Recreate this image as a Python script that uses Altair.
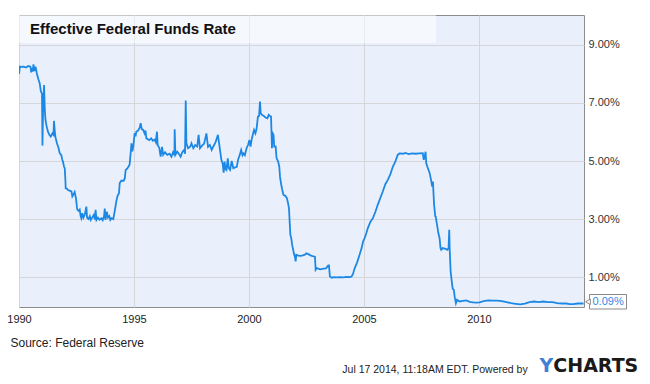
import altair as alt
import pandas as pd

# ---- data (decimal year, effective fed funds rate %) ----
years = [
    1990.00, 1990.04, 1990.10, 1990.20, 1990.30, 1990.40, 1990.50, 1990.53, 1990.56, 1990.59,
    1990.63, 1990.67, 1990.72, 1990.78, 1990.85, 1990.90, 1990.95, 1991.00, 1991.02, 1991.05,
    1991.09, 1991.12, 1991.15, 1991.20, 1991.26, 1991.32, 1991.38, 1991.45, 1991.50, 1991.52,
    1991.56, 1991.58, 1991.65, 1991.72, 1991.77, 1991.84, 1991.88, 1991.91, 1991.96, 1991.99,
    1992.02, 1992.03, 1992.08, 1992.13, 1992.20, 1992.28, 1992.32, 1992.37, 1992.42, 1992.48,
    1992.52, 1992.54, 1992.60, 1992.64, 1992.68, 1992.71, 1992.75, 1992.80, 1992.86, 1992.93,
    1992.96, 1993.02, 1993.08, 1993.12, 1993.18, 1993.25, 1993.30, 1993.33, 1993.37, 1993.43,
    1993.50, 1993.58, 1993.64, 1993.70, 1993.73, 1993.76, 1993.82, 1993.87, 1993.93, 1993.97,
    1994.03, 1994.10, 1994.16, 1994.23, 1994.28, 1994.35, 1994.38, 1994.45, 1994.55, 1994.60,
    1994.64, 1994.72, 1994.81, 1994.87, 1994.89, 1994.93, 1994.97, 1995.03, 1995.07, 1995.10,
    1995.18, 1995.25, 1995.29, 1995.34, 1995.40, 1995.46, 1995.50, 1995.54, 1995.60, 1995.66,
    1995.75, 1995.82, 1995.90, 1995.95, 1996.00, 1996.03, 1996.10, 1996.16, 1996.22, 1996.27,
    1996.35, 1996.45, 1996.55, 1996.63, 1996.70, 1996.76, 1996.77, 1996.80, 1996.88, 1996.95,
    1997.03, 1997.10, 1997.18, 1997.22, 1997.25, 1997.28, 1997.35, 1997.45, 1997.50, 1997.58,
    1997.66, 1997.75, 1997.81, 1997.87, 1997.95, 1998.05, 1998.15, 1998.22, 1998.30, 1998.38,
    1998.45, 1998.55, 1998.65, 1998.72, 1998.80, 1998.86, 1998.90, 1998.94, 1998.98, 1999.02,
    1999.08, 1999.12, 1999.18, 1999.25, 1999.32, 1999.40, 1999.47, 1999.53, 1999.60, 1999.66,
    1999.72, 1999.76, 1999.82, 1999.90, 1999.96, 2000.02, 2000.07, 2000.12, 2000.18, 2000.22,
    2000.28, 2000.33, 2000.39, 2000.44, 2000.48, 2000.51, 2000.56, 2000.65, 2000.72, 2000.80,
    2000.86, 2000.90, 2000.96, 2001.00, 2001.03, 2001.07, 2001.10, 2001.16, 2001.20, 2001.27,
    2001.32, 2001.35, 2001.40, 2001.45, 2001.50, 2001.58, 2001.65, 2001.70, 2001.74, 2001.77,
    2001.80, 2001.84, 2001.88, 2001.91, 2001.96, 2002.00, 2002.03, 2002.06, 2002.15, 2002.25,
    2002.35, 2002.45, 2002.49, 2002.58, 2002.70, 2002.81, 2002.87, 2002.90, 2002.95, 2003.10,
    2003.25, 2003.35, 2003.45, 2003.48, 2003.52, 2003.60, 2003.70, 2003.80, 2003.95, 2004.10,
    2004.25, 2004.40, 2004.46, 2004.52, 2004.60, 2004.70, 2004.81, 2004.90, 2004.96, 2005.03,
    2005.10, 2005.17, 2005.28, 2005.39, 2005.50, 2005.60, 2005.70, 2005.82, 2005.93, 2006.04,
    2006.15, 2006.26, 2006.35, 2006.47, 2006.55, 2006.70, 2006.80, 2006.95, 2007.10, 2007.25,
    2007.40, 2007.56, 2007.60, 2007.64, 2007.68, 2007.71, 2007.76, 2007.86, 2007.93, 2007.97,
    2008.00, 2008.05, 2008.10, 2008.12, 2008.18, 2008.24, 2008.29, 2008.33, 2008.36, 2008.42,
    2008.55, 2008.63, 2008.68, 2008.71, 2008.73, 2008.77, 2008.81, 2008.86, 2008.91, 2008.95,
    2009.00, 2009.05, 2009.15, 2009.30, 2009.45, 2009.60, 2009.75, 2009.90, 2010.03, 2010.20,
    2010.40, 2010.60, 2010.80, 2011.00, 2011.20, 2011.40, 2011.60, 2011.80, 2012.00, 2012.20,
    2012.40, 2012.60, 2012.80, 2013.00, 2013.20, 2013.40, 2013.60, 2013.80, 2013.95, 2014.10,
    2014.30, 2014.45, 2014.55,
]
rates = [
    8.00, 8.25, 8.24, 8.25, 8.22, 8.27, 8.25, 8.05, 8.20, 8.08,
    8.33, 8.10, 8.25, 8.00, 7.80, 7.68, 7.40, 7.31, 5.53, 6.90,
    7.62, 6.80, 6.42, 6.20, 6.01, 5.90, 5.84, 5.95, 5.90, 6.38,
    6.00, 5.84, 5.61, 5.45, 5.27, 5.20, 5.05, 4.98, 4.80, 4.75,
    4.30, 4.06, 4.05, 4.00, 3.98, 3.95, 3.78, 3.85, 3.93, 3.70,
    3.40, 3.32, 3.28, 3.32, 3.10, 3.03, 3.20, 3.05, 3.15, 3.43,
    3.05, 3.00, 3.10, 2.97, 3.05, 3.14, 2.98, 3.32, 2.97, 3.05,
    2.98, 3.03, 2.96, 3.10, 3.36, 2.97, 3.25, 3.05, 3.10, 2.97,
    3.03, 3.00, 3.26, 3.60, 3.78, 3.90, 4.24, 4.32, 4.32, 4.40,
    4.69, 4.75, 4.87, 5.40, 5.61, 5.33, 5.50, 5.96, 5.85, 6.01,
    6.05, 6.15, 6.30, 6.10, 6.07, 5.95, 6.05, 5.78, 5.75, 5.72,
    5.78, 5.70, 5.74, 5.65, 6.01, 5.55, 5.45, 5.15, 5.49, 5.21,
    5.30, 5.21, 5.25, 5.15, 5.30, 5.20, 6.09, 5.21, 5.32, 5.25,
    5.15, 5.30, 5.38, 5.25, 7.08, 5.61, 5.44, 5.50, 5.61, 5.44,
    5.55, 5.50, 5.90, 5.44, 5.52, 5.60, 5.95, 5.49, 5.55, 5.38,
    5.50, 5.65, 5.90, 5.50, 5.04, 4.90, 4.60, 4.98, 4.72, 4.69,
    5.09, 4.75, 4.69, 5.00, 4.75, 4.78, 4.80, 5.05, 5.21, 5.38,
    5.20, 5.26, 5.20, 5.45, 5.55, 5.72, 5.50, 5.75, 5.95, 6.07,
    5.95, 6.10, 6.53, 6.55, 7.05, 6.65, 6.59, 6.55, 6.50, 6.47,
    6.59, 6.56, 6.53, 5.44, 5.96, 5.90, 5.50, 5.50, 5.10, 4.98,
    4.80, 4.46, 4.20, 4.00, 3.83, 3.80, 3.72, 3.55, 3.37, 2.91,
    2.46, 2.34, 2.10, 2.00, 1.79, 1.70, 1.54, 1.77, 1.74, 1.73,
    1.75, 1.78, 1.82, 1.79, 1.74, 1.71, 1.70, 1.25, 1.31, 1.27,
    1.29, 1.30, 1.40, 1.40, 1.02, 0.98, 1.00, 0.99, 1.00, 0.99,
    1.01, 1.00, 1.02, 1.10, 1.31, 1.50, 1.77, 2.00, 2.22, 2.34,
    2.50, 2.69, 2.90, 3.03, 3.25, 3.49, 3.70, 3.95, 4.20, 4.35,
    4.55, 4.81, 4.95, 5.21, 5.26, 5.25, 5.28, 5.24, 5.26, 5.25,
    5.26, 5.27, 5.04, 5.15, 5.32, 4.92, 4.80, 4.58, 4.30, 4.12,
    4.29, 3.50, 3.10, 3.09, 2.80, 2.50, 2.34, 2.00, 1.94, 2.00,
    1.97, 1.94, 2.00, 2.63, 1.94, 1.20, 0.91, 0.60, 0.56, 0.30,
    0.10, 0.22, 0.16, 0.18, 0.20, 0.15, 0.13, 0.12, 0.13, 0.17,
    0.20, 0.19, 0.19, 0.17, 0.14, 0.10, 0.08, 0.06, 0.09, 0.14,
    0.16, 0.14, 0.16, 0.14, 0.14, 0.10, 0.09, 0.09, 0.07, 0.07,
    0.09, 0.09, 0.09,
]

year_ticks = [1990, 1995, 2000, 2005, 2010]
rate_ticks = [1, 3, 5, 7, 9]
title_text = "Effective Federal Funds Rate"
source_text = "Source: Federal Reserve"
footer_text = "Jul 17 2014, 11:18AM EDT.  Powered by"
logo_y = "Y"
logo_rest = "CHARTS"
last_label = f"{rates[-1]:.2f}%"

FONT = "Liberation Sans"
W, H = 565, 292

df = pd.DataFrame({"year": years, "rate": rates})

x_scale = alt.Scale(domain=[1990, 2014.57], nice=False, zero=False)
y_scale = alt.Scale(domain=[-0.03, 10.03], nice=False, zero=False)

line = alt.Chart(df).mark_line(color="#1c88e6", strokeWidth=1.8, clip=True).encode(
    x=alt.X("year:Q", scale=x_scale,
            axis=alt.Axis(values=year_ticks, format="d", title=None, orient="bottom",
                          grid=True, gridColor="#d4d6da", gridWidth=1,
                          ticks=False, domain=False, labelFont=FONT, labelFontSize=11,
                          labelColor="#222222", labelPadding=6, labelFlush=False)),
    y=alt.Y("rate:Q", scale=y_scale,
            axis=alt.Axis(values=rate_ticks, title=None, orient="right",
                          labelExpr="format(datum.value, '.2f') + '%'",
                          grid=True, gridColor="#d4d6da", gridWidth=1,
                          ticks=False, domain=False, labelFont=FONT, labelFontSize=11,
                          labelColor="#333333", labelPadding=4)),
)

one = lambda s: pd.DataFrame({"t": [s]})

title_box = alt.Chart(one(title_text)).mark_rect(color="white", opacity=0.5).encode(
    x=alt.value(0), x2=alt.value(417), y=alt.value(0), y2=alt.value(28)
)
title = alt.Chart(one(title_text)).mark_text(
    align="left", baseline="alphabetic", font=FONT, fontSize=15, fontWeight="bold", color="#111111"
).encode(x=alt.value(11), y=alt.value(19), text="t:N")

source = alt.Chart(one(source_text)).mark_text(
    align="left", baseline="alphabetic", font=FONT, fontSize=12, color="#222222"
).encode(x=alt.value(-8.5), y=alt.value(331.5), text="t:N")

footer = alt.Chart(one(footer_text)).mark_text(
    align="left", baseline="alphabetic", font=FONT, fontSize=10.5, color="#222222"
).encode(x=alt.value(323.3), y=alt.value(357.5), text="t:N")

logo1 = alt.Chart(one(logo_y)).mark_text(
    align="left", baseline="alphabetic", font="DejaVu Sans", fontSize=19, fontWeight="bold",
    color="#3f7fd8"
).encode(x=alt.value(520.5), y=alt.value(356.5), text="t:N")
logo2 = alt.Chart(one(logo_rest)).mark_text(
    align="left", baseline="alphabetic", font="DejaVu Sans", fontSize=19, fontWeight="bold",
    color="#1a1a1a"
).encode(x=alt.value(534.3), y=alt.value(356.5), text="t:N")

callout_box = alt.Chart(one(last_label)).mark_rect(
    fill="white", stroke="#8a8a8a", strokeWidth=1
).encode(x=alt.value(570.5), x2=alt.value(607.5), y=alt.value(279.5), y2=alt.value(294))
callout_ptr = alt.Chart(one(last_label)).mark_point(
    shape="triangle-left", filled=True, fill="white", stroke="#8a8a8a", strokeWidth=1,
    size=30, opacity=1
).encode(x=alt.value(569), y=alt.value(286.8))
callout_text = alt.Chart(one(last_label)).mark_text(
    align="left", baseline="middle", font=FONT, fontSize=11, color="#2e8be6"
).encode(x=alt.value(573.5), y=alt.value(287), text="t:N")

chart = alt.layer(
    title_box, line, title, source, footer, logo1, logo2, callout_box, callout_ptr, callout_text
).properties(
    width=W, height=H,
    autosize=alt.AutoSizeParams(type="none"),
    padding={"left": 11, "top": 7, "right": 58, "bottom": 69},
    background="white",
).configure_view(
    fill="#eaf0fb", stroke="#8c8c8c", strokeWidth=1
)

chart.save("out.html", embed_options={"renderer": "svg", "actions": False})
